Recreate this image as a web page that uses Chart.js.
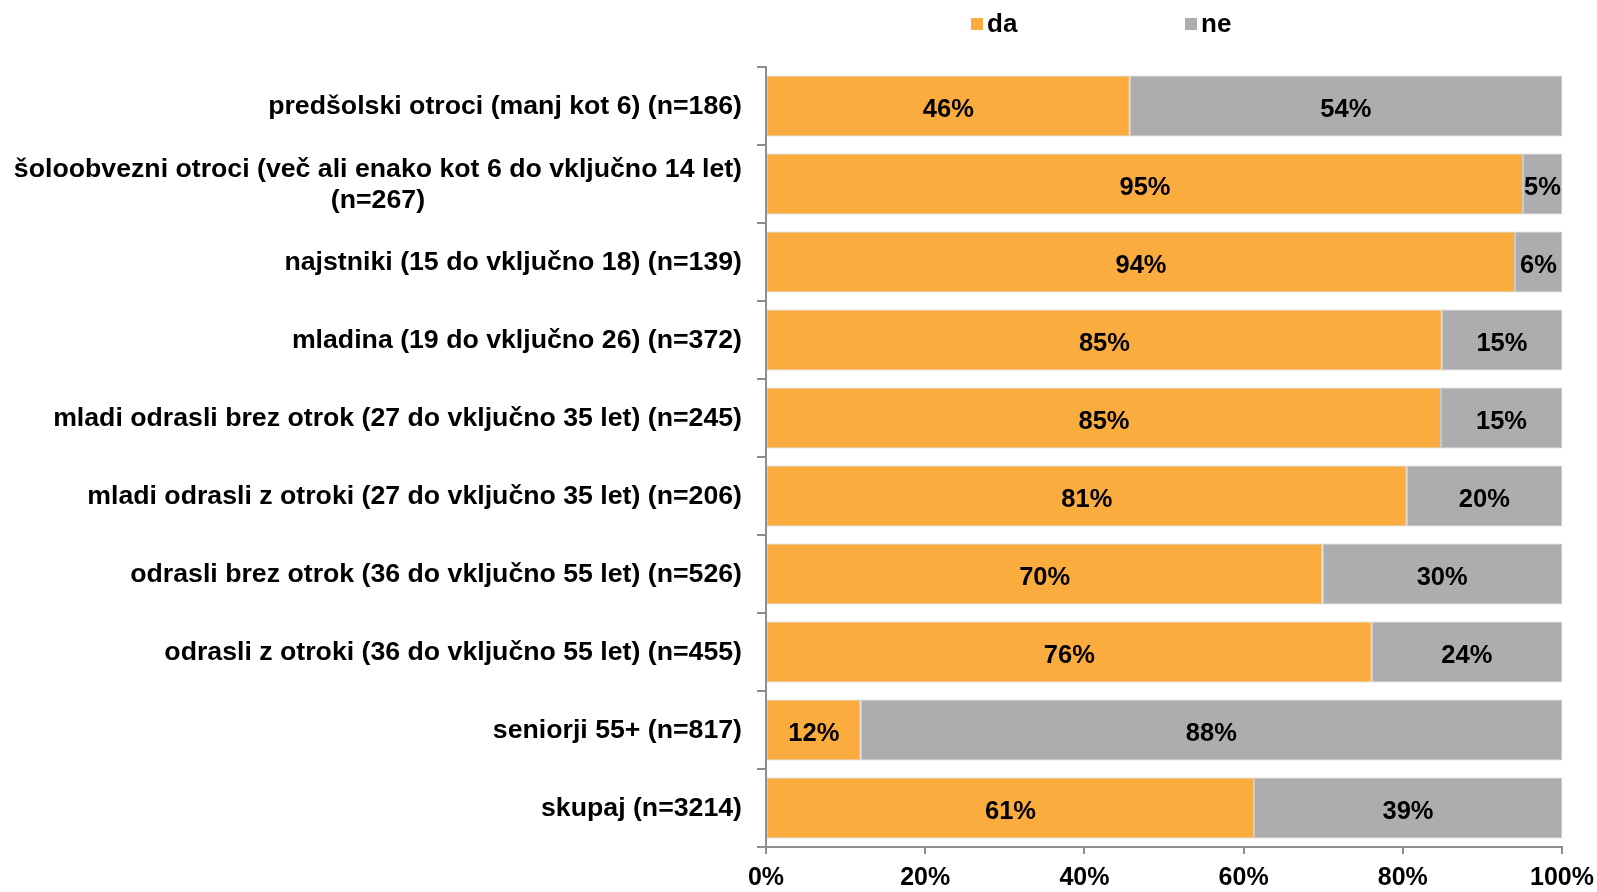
<!DOCTYPE html>
<html>
<head>
<meta charset="utf-8">
<script src="https://cdn.jsdelivr.net/npm/chart.js@4.4.1/dist/chart.umd.min.js"></script>
<style>
  html, body { margin: 0; padding: 0; background: #fff; }
  canvas { display: block; }
</style>
</head>
<body>
<canvas id="chart" width="1597" height="892"></canvas>
<script>
// kategorije (starostne skupine)
const categories = [
  'predšolski otroci (manj kot 6) (n=186)',
  ['šoloobvezni otroci (več ali enako kot 6 do vključno 14 let)', '(n=267)'],
  'najstniki (15 do vključno 18) (n=139)',
  'mladina (19 do vključno 26) (n=372)',
  'mladi odrasli brez otrok (27 do vključno 35 let) (n=245)',
  'mladi odrasli z otroki (27 do vključno 35 let) (n=206)',
  'odrasli brez otrok (36 do vključno 55 let) (n=526)',
  'odrasli z otroki (36 do vključno 55 let) (n=455)',
  'seniorji 55+ (n=817)',
  'skupaj (n=3214)',
];

// deleži odgovorov (%)
const daValues = [45.7, 95.1, 94.1, 84.9, 84.8, 80.5, 69.9, 76.1, 11.9, 61.3];
const neValues = [54.3, 4.9, 5.9, 15.1, 15.2, 19.5, 30.1, 23.9, 88.1, 38.7];

// oznake osi x
const xTicks = [0, 20, 40, 60, 80, 100];

const FONT = '"Liberation Sans", Arial, sans-serif';
const AXIS_COLOR = '#8e8e8e';

// legenda nad grafom
const legendPlugin = {
  id: 'topLegend',
  afterDraw(chart) {
    const { ctx, chartArea } = chart;
    const offsets = [205, 419];
    ctx.save();
    ctx.font = 'bold 26px ' + FONT;
    ctx.textBaseline = 'middle';
    ctx.textAlign = 'left';
    chart.data.datasets.forEach((ds, i) => {
      const x = chartArea.left + offsets[i];
      ctx.fillStyle = ds.backgroundColor;
      ctx.fillRect(x, 18, 12, 12);
      ctx.fillStyle = '#000';
      ctx.fillText(ds.label, x + 16, 25);
    });
    ctx.restore();
  },
};

// oznake kategorij (večvrstične so sredinsko poravnane)
const categoryLabelPlugin = {
  id: 'categoryLabels',
  afterDraw(chart) {
    const { ctx, chartArea } = chart;
    const yScale = chart.scales.y;
    const right = chartArea.left - 24;
    const lineHeight = 31;
    ctx.save();
    ctx.font = 'bold 26.7px ' + FONT;
    ctx.fillStyle = '#000';
    ctx.textBaseline = 'middle';
    ctx.textAlign = 'center';
    categories.forEach((label, i) => {
      const lines = Array.isArray(label) ? label : [label];
      const width = Math.max(...lines.map((l) => ctx.measureText(l).width));
      const cx = right - width / 2;
      const cy = yScale.getPixelForValue(i) + 1 - ((lines.length - 1) * lineHeight) / 2;
      lines.forEach((l, j) => ctx.fillText(l, cx, cy + j * lineHeight));
    });
    ctx.restore();
  },
};

// odstotki v stolpcih
const valueLabelPlugin = {
  id: 'valueLabels',
  afterDatasetsDraw(chart) {
    const { ctx } = chart;
    ctx.save();
    ctx.font = 'bold 25.5px ' + FONT;
    ctx.fillStyle = '#000';
    ctx.textAlign = 'center';
    ctx.textBaseline = 'middle';
    chart.data.datasets.forEach((ds, di) => {
      chart.getDatasetMeta(di).data.forEach((bar, i) => {
        const cx = (bar.x + bar.base) / 2;
        ctx.fillText(Math.round(ds.data[i]) + '%', cx, bar.y + 4);
      });
    });
    ctx.restore();
  },
};

new Chart(document.getElementById('chart').getContext('2d'), {
  type: 'bar',
  data: {
    labels: categories,
    datasets: [
      {
        label: 'da',
        data: daValues,
        backgroundColor: '#FBAC3F',
        borderColor: '#c9c9c9',
        borderWidth: 1,
        borderSkipped: false,
        barPercentage: 0.78,
        categoryPercentage: 1,
      },
      {
        label: 'ne',
        data: neValues,
        backgroundColor: '#ADADAF',
        borderColor: '#c9c9c9',
        borderWidth: 1,
        borderSkipped: false,
        barPercentage: 0.78,
        categoryPercentage: 1,
      },
    ],
  },
  options: {
    indexAxis: 'y',
    responsive: false,
    animation: false,
    devicePixelRatio: 1,
    layout: { padding: { left: 0, top: 67, right: 35, bottom: 0 } },
    plugins: {
      legend: { display: false },
      tooltip: { enabled: false },
    },
    scales: {
      x: {
        stacked: true,
        min: 0,
        max: 100,
        afterBuildTicks: (scale) => {
          scale.ticks = xTicks.map((v) => ({ value: v }));
        },
        afterFit: (scale) => {
          scale.height = 45;
          scale.paddingLeft = 0;
          scale.paddingRight = 0;
        },
        border: { display: true, color: AXIS_COLOR, width: 2 },
        grid: {
          drawOnChartArea: false,
          drawTicks: true,
          tickLength: 7,
          color: AXIS_COLOR,
          lineWidth: 2,
        },
        ticks: {
          padding: 9,
          color: '#000',
          font: { family: FONT, size: 25, weight: 'bold' },
          maxRotation: 0,
          callback: (v) => v + '%',
        },
      },
      y: {
        stacked: true,
        afterFit: (scale) => {
          scale.width = 766;
        },
        border: { display: true, color: AXIS_COLOR, width: 2 },
        grid: {
          offset: true,
          drawOnChartArea: false,
          drawTicks: true,
          tickLength: 9,
          color: AXIS_COLOR,
          lineWidth: 2,
        },
        ticks: {
          color: 'rgba(0,0,0,0)',
          font: { family: FONT, size: 24, weight: 'bold' },
        },
      },
    },
  },
  plugins: [legendPlugin, categoryLabelPlugin, valueLabelPlugin],
});
</script>
</body>
</html>
